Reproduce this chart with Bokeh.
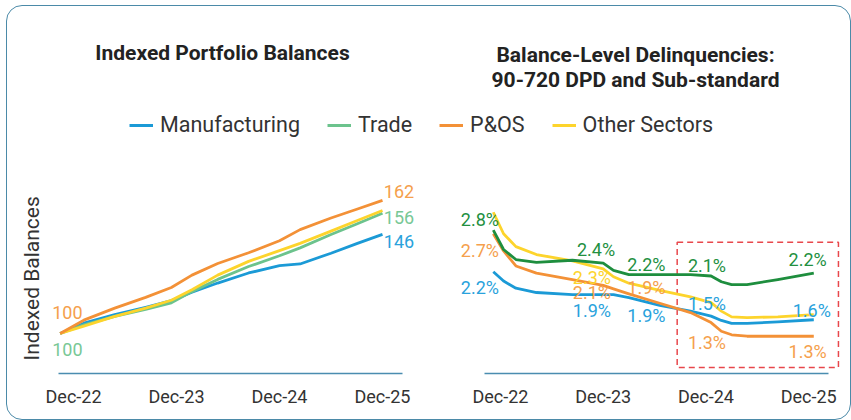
from bokeh.plotting import figure
from bokeh.layouts import column, row
from bokeh.models import Range1d, FixedTicker, Legend, LegendItem, ColumnDataSource, Spacer, Title
from bokeh.core.properties import value
from bokeh.embed import file_html
from bokeh.resources import INLINE

# ---------------- data ----------------
TICK_POS = [0, 1, 2, 3]
TICK_LABELS = ["Dec-22", "Dec-23", "Dec-24", "Dec-25"]
SECTORS = ["Manufacturing", "Trade", "P&OS", "Other Sectors"]

# Left: indexed portfolio balances (x in years since Dec-22)
bal_x = [-0.13, 0.1, 0.4, 0.7, 0.95, 1.15, 1.4, 1.7, 2.0, 2.2, 2.5, 2.75, 3.0]
bal_manufacturing = [100, 104.8, 108.8, 112.2, 115.3, 119.2, 123.5, 128.2, 131.6, 132.4, 137.4, 141.9, 146.2]
bal_trade = [100, 104.0, 108.0, 111.2, 114.3, 119.5, 125.2, 131.2, 136.2, 139.9, 146.1, 151.0, 156.0]
bal_pos = [100, 106.2, 111.8, 116.8, 121.4, 127.2, 132.6, 137.6, 143.2, 148.4, 153.8, 157.9, 162.0]
bal_other = [100, 103.4, 108.0, 111.8, 115.5, 120.4, 127.2, 133.6, 138.6, 142.0, 147.7, 152.5, 157.3]

bal_label_text = ["100", "100", "162", "156", "146"]
bal_label_series = ["P&OS", "Trade", "P&OS", "Trade", "Manufacturing"]
bal_label_x = [-0.06, -0.06, 3.16, 3.16, 3.16]
bal_label_y = [109.8, 92.5, 166.2, 154.1, 142.9]

# Right: delinquency rates (%)
dq_x = [-0.07, 0.03, 0.15, 0.35, 0.7, 1.0, 1.1, 1.25, 1.55, 1.85, 2.05, 2.15, 2.25, 2.4, 2.7, 3.05]
dq_manufacturing = [2.21, 2.08, 1.98, 1.92, 1.89, 1.89, 1.89, 1.85, 1.74, 1.66, 1.59, 1.53, 1.49, 1.49, 1.51, 1.54]
dq_trade = [2.79, 2.52, 2.38, 2.34, 2.37, 2.33, 2.23, 2.17, 2.17, 2.17, 2.15, 2.07, 2.03, 2.03, 2.10, 2.19]
dq_pos = [2.74, 2.50, 2.29, 2.19, 2.10, 2.02, 1.97, 1.90, 1.77, 1.64, 1.50, 1.38, 1.33, 1.31, 1.31, 1.31]
dq_other = [3.04, 2.74, 2.56, 2.45, 2.36, 2.25, 2.14, 2.05, 1.95, 1.86, 1.78, 1.66, 1.58, 1.57, 1.58, 1.61]

dq_label_text = ["2.8%", "2.7%", "2.2%", "2.4%", "2.3%", "2.1%", "1.9%", "2.2%", "1.9%", "1.9%",
                 "2.1%", "1.5%", "1.3%", "2.2%", "1.6%", "1.3%"]
dq_label_series = ["Trade", "P&OS", "Manufacturing", "Trade", "Other Sectors", "P&OS", "Manufacturing",
                   "Trade", "P&OS", "Manufacturing", "Trade", "Manufacturing", "P&OS",
                   "Trade", "Manufacturing", "P&OS"]
dq_label_x = [-0.20, -0.20, -0.20, 0.93, 0.89, 0.89, 0.89, 1.42, 1.42, 1.42, 2.01, 2.01, 2.01, 2.99, 3.03, 2.99]
dq_label_y = [2.94, 2.51, 1.99, 2.52, 2.13, 1.92, 1.67, 2.31, 1.99, 1.60, 2.30, 1.77, 1.22, 2.38, 1.67, 1.10]

# highlighted window (Dec-24 onward)
box_x = [1.72, 3.29]
box_y = [0.875, 2.62]

# ---------------- style ----------------
FONT = "Roboto"
TEXT = "#333333"
AXIS = "#4a8db0"
LINE_COL = {"Manufacturing": "#1b9ad6", "Trade": "#6cc38d", "P&OS": "#f39137", "Other Sectors": "#fdd42c"}
LINE_COL_R = dict(LINE_COL, Trade="#1e8e3e")
LAB_COL = {"Manufacturing": "#2aa2dc", "Trade": "#78c896", "P&OS": "#f5a04c", "Other Sectors": "#fdd42c"}
LAB_COL_R = dict(LAB_COL, Trade="#23903f")


def clear_fills(p):
    p.grid.visible = False
    p.outline_line_color = None
    p.border_fill_color = None
    p.background_fill_color = None


def style_xaxis(p, bounds):
    ax = p.xaxis[0]
    ax.ticker = FixedTicker(ticks=TICK_POS)
    ax.major_label_overrides = {t: l for t, l in zip(TICK_POS, TICK_LABELS)}
    ax.bounds = bounds
    ax.axis_line_color = AXIS
    ax.axis_line_width = 1.5
    ax.major_tick_line_color = None
    ax.minor_tick_line_color = None
    ax.major_tick_out = 0
    ax.major_label_standoff = 12
    ax.major_label_text_font = FONT
    ax.major_label_text_font_style = "normal"
    ax.major_label_text_font_size = "18px"
    ax.major_label_text_color = TEXT


# ---------------- header ----------------
HW, HH = 845, 140
hdr = figure(width=HW, height=HH, x_range=Range1d(0, HW), y_range=Range1d(0, HH),
             toolbar_location=None, output_backend="svg", min_border=0,
             x_axis_location=None, y_axis_location=None)
clear_fills(hdr)
hdr.text(x=[216, 629, 629], y=[93, 91, 66],
         text=["Indexed Portfolio Balances", "Balance-Level Delinquencies:", "90-720 DPD and Sub-standard"],
         text_font=value(FONT), text_font_style="bold", text_font_size="21px",
         text_align="center", text_baseline="middle", text_color="#222222")
items = []
for s in SECTORS:
    r = hdr.line(x=[-100, -99], y=[-100, -100], line_color=LINE_COL[s], line_width=3)
    items.append(LegendItem(label=s, renderers=[r]))
leg = Legend(items=items, orientation="horizontal", location=(123, 8),
             label_text_font=FONT, label_text_font_size="21.5px", label_text_color=TEXT,
             glyph_width=24, glyph_height=20, label_standoff=7, spacing=27,
             padding=0, margin=0, border_line_color=None, background_fill_alpha=0)
hdr.add_layout(leg, "center")

# ---------------- left chart ----------------
p1 = figure(width=419, height=275, x_range=Range1d(-0.243, 3.369), y_range=Range1d(81.35, 187.6),
            toolbar_location=None, output_backend="svg", y_axis_location=None,
            min_border_left=42, min_border_right=5, min_border_top=0, min_border_bottom=47)
clear_fills(p1)
style_xaxis(p1, (-0.146, 3.194))
p1.add_layout(Title(text="Indexed Balances", align="left", offset=13, standoff=9,
                    text_font=FONT, text_font_size="21px", text_font_style="normal",
                    text_color=TEXT), "left")

for s, ys in zip(["Manufacturing", "Trade", "Other Sectors", "P&OS"],
                 [bal_manufacturing, bal_trade, bal_other, bal_pos]):
    p1.line(bal_x, ys, line_color=LINE_COL[s], line_width=2.8, line_join="round")
src1 = ColumnDataSource(dict(x=bal_label_x, y=bal_label_y, t=bal_label_text,
                             c=[LAB_COL[s] for s in bal_label_series]))
p1.text(x="x", y="y", text="t", text_color="c", source=src1, text_font=value(FONT),
        text_font_size="18px", text_align="center", text_baseline="middle")

# ---------------- right chart ----------------
p2 = figure(width=426, height=275, x_range=Range1d(-0.438, 3.31), y_range=Range1d(0.79, 3.971),
            toolbar_location=None, output_backend="svg", y_axis_location=None,
            min_border_left=30, min_border_right=11, min_border_top=0, min_border_bottom=47)
clear_fills(p2)
style_xaxis(p2, (-0.156, 3.194))
p2.quad(left=[box_x[0]], right=[box_x[1]], bottom=[box_y[0]], top=[box_y[1]],
        fill_alpha=0, line_color="#e8474b", line_width=1.5, line_dash="6 4")
for s, ys in zip(["Manufacturing", "P&OS", "Other Sectors", "Trade"],
                 [dq_manufacturing, dq_pos, dq_other, dq_trade]):
    p2.line(dq_x, ys, line_color=LINE_COL_R[s], line_width=2.8, line_join="round")
src2 = ColumnDataSource(dict(x=dq_label_x, y=dq_label_y, t=dq_label_text,
                             c=[LAB_COL_R[s] for s in dq_label_series]))
p2.text(x="x", y="y", text="t", text_color="c", source=src2, text_font=value(FONT),
        text_font_size="18px", text_align="center", text_baseline="middle")

inner = column(hdr, row(p1, p2),
               styles={"outline": "1.5px solid #4b8aa8", "outline-offset": "-1.5px",
                       "border-radius": "16px"})
layout = column(Spacer(height=5), row(Spacer(width=6), inner))

open("out.html", "w").write(file_html(layout, INLINE))
